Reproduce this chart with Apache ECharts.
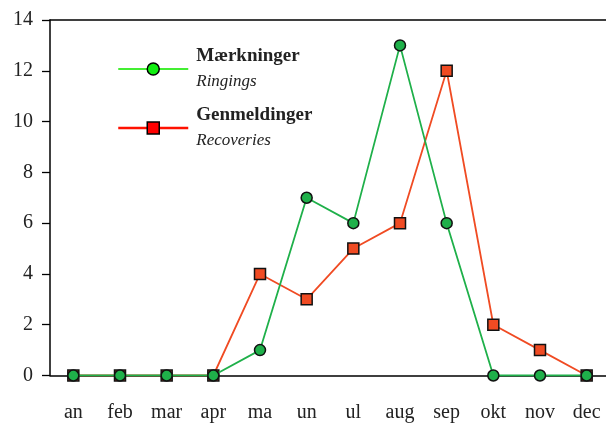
<!DOCTYPE html>
<html>
<head>
<meta charset="utf-8">
<script src="https://cdn.jsdelivr.net/npm/echarts@6/dist/echarts.min.js"></script>
<style>
html, body { margin: 0; padding: 0; background: #fff; overflow: hidden; }
#res { width: 615px; height: 425px; }
</style>
</head>
<body>
<div id="res"></div>
<script>
// maaneder og tal
var months = ['an', 'feb', 'mar', 'apr', 'ma', 'un', 'ul', 'aug', 'sep', 'okt', 'nov', 'dec'];
var ringings = [0, 0, 0, 0, 1, 7, 6, 13, 6, 0, 0, 0];
var recoveries = [0, 0, 0, 0, 4, 3, 5, 6, 12, 2, 1, 0];
var yTicks = [0, 2, 4, 6, 8, 10, 12, 14];

var font = '"Liberation Serif", "DejaVu Serif", serif';
var myChart = echarts.init(document.getElementById('res'));
var option = {
    animation: false,
    textStyle: { fontFamily: font },
    grid: { left: 50, top: 20, width: 560, height: 355.5 },
    legend: {
        orient: 'vertical',
        left: 112,
        top: 42,
        itemWidth: 70,
        itemHeight: 15,
        itemGap: 16,
        selectedMode: false,
        data: [
            { name: 'Mærkninger', lineStyle: { color: '#44ee33', width: 2 }, itemStyle: { color: '#11ee11', borderColor: '#000', borderWidth: 1.5 } },
            { name: 'Genmeldinger', lineStyle: { color: '#ff1100', width: 2.5 }, itemStyle: { color: '#ff0000', borderColor: '#000', borderWidth: 1.5 } }
        ],
        formatter: function (name) {
            var sub = name === 'Mærkninger' ? 'Ringings' : 'Recoveries';
            return '{b|' + name + '}\n{i|' + sub + '}';
        },
        textStyle: {
            padding: [0, 0, 0, 3],
            rich: {
                b: { fontFamily: font, fontWeight: 'bold', fontSize: 19, lineHeight: 25, color: '#222' },
                i: { fontFamily: font, fontStyle: 'italic', fontSize: 17, lineHeight: 25, color: '#222' }
            }
        }
    },
    xAxis: [{
        type: 'category',
        data: months,
        boundaryGap: true,
        axisLine: { lineStyle: { color: '#000', width: 1.5 } },
        axisTick: { interval: 0, length: 6, lineStyle: { color: '#000', width: 1.3 } },
        axisLabel: { interval: 0, margin: 27, fontSize: 20, color: '#222', fontFamily: font }
    }, {
        type: 'category',
        data: months,
        position: 'top',
        axisLine: { lineStyle: { color: '#000', width: 1.5 } },
        axisTick: { show: false },
        axisLabel: { show: false }
    }],
    yAxis: {
        type: 'value',
        min: yTicks[0],
        max: yTicks[yTicks.length - 1],
        interval: 2,
        splitLine: { show: false },
        axisLine: { show: true, lineStyle: { color: '#000', width: 1.5 } },
        axisTick: { show: true, length: 8, lineStyle: { color: '#000', width: 1.3 } },
        axisLabel: { margin: 17, fontSize: 20, color: '#222', fontFamily: font }
    },
    series: [{
        name: 'Genmeldinger',
        type: 'line',
        data: recoveries,
        symbol: 'rect',
        symbolSize: 11,
        z: 2,
        lineStyle: { color: '#f04b23', width: 1.8 },
        itemStyle: { color: '#f04b23', borderColor: '#111', borderWidth: 1.5 }
    }, {
        name: 'Mærkninger',
        type: 'line',
        data: ringings,
        symbol: 'circle',
        symbolSize: 11,
        z: 3,
        lineStyle: { color: '#1fb04a', width: 1.8 },
        itemStyle: { color: '#1fb04a', borderColor: '#111', borderWidth: 1.5 }
    }]
};
myChart.setOption(option);
</script>
</body>
</html>
